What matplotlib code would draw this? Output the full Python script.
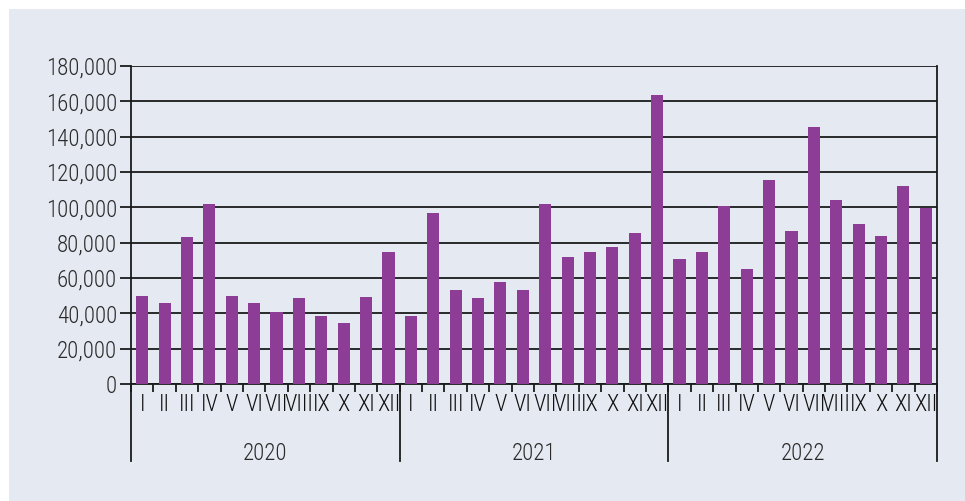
import matplotlib
matplotlib.use("Agg")
import matplotlib.pyplot as plt
import matplotlib.transforms as mtransforms
from matplotlib import font_manager
from matplotlib.patches import Rectangle
from matplotlib.ticker import FuncFormatter, MultipleLocator
import numpy as np

years = ["2020", "2021", "2022"]
months = ["I", "II", "III", "IV", "V", "VI", "VII", "VIII", "IX", "X", "XI", "XII"]
values_2020 = [50000, 46000, 83000, 102000, 50000, 46000, 41000, 48500, 38500, 34300, 49200, 74900]
values_2021 = [38500, 96600, 53400, 48500, 57600, 53400, 102000, 71700, 74900, 77400, 85700, 163600]
values_2022 = [70800, 74900, 100800, 64900, 115500, 86400, 145300, 104000, 90600, 83900, 112100, 99800]

names = sorted({f.name for f in font_manager.fontManager.ttflist})

# condensed face if there is one, otherwise a plain sans at a smaller size
fs = 13.5
family = 'Liberation Sans'
for cand in ['Liberation Sans Narrow', 'DejaVu Sans Condensed', 'Roboto Condensed']:
    if cand in names:
        family = cand
        fs = 16.5
        break

plt.rcParams['font.family'] = [family, 'DejaVu Sans']
plt.rcParams['font.size'] = fs
plt.rcParams['font.weight'] = 'light'

bg = '#E5EAF2'
bar_color = '#8E3D96'
text_color = '#2a2a2a'

fig = plt.figure(figsize=(9.65, 5.01), dpi=100, facecolor='white')
fig.patches.append(Rectangle((9/965, 0), 1, 1 - 9/501, transform=fig.transFigure,
                             facecolor=bg, edgecolor='none', zorder=-10))

ax = fig.add_axes([131/965, (501-384)/501, 806/965, 318/501])
ax.patch.set_alpha(0)

values = values_2020 + values_2021 + values_2022
n = len(values)
x = np.arange(n)
ax.bar(x, values, width=0.54, color=bar_color, zorder=3)

ax.set_xlim(-0.5, n - 0.5)
ax.set_ylim(0, 180000)
ax.yaxis.set_major_locator(MultipleLocator(20000))
ax.yaxis.set_major_formatter(FuncFormatter(lambda v, p: f"{int(v):,}"))
ax.grid(axis='y', color='#1a1a1a', linewidth=1.3, zorder=1)
ax.tick_params(axis='y', length=8, width=1.3, color='#1a1a1a', labelcolor=text_color, pad=2)

for s in ['top', 'right']:
    ax.spines[s].set_visible(False)
ax.spines['left'].set_linewidth(1.3)
ax.spines['bottom'].set_linewidth(1.3)
ax.spines['left'].set_color('#1a1a1a')
ax.spines['bottom'].set_color('#1a1a1a')

# month ticks at slot boundaries
ax.set_xticks(np.arange(-0.5, n, 1.0))
ax.set_xticklabels([])
ax.tick_params(axis='x', length=6, width=1.3, color='#1a1a1a')

trans = mtransforms.blended_transform_factory(ax.transData, ax.transAxes)
for b in np.arange(-0.5, n + 0.5, 12):
    ax.plot([b, b], [1 if b == n - 0.5 else 0, -0.242], transform=trans, color='#1a1a1a',
            linewidth=1.3, clip_on=False, zorder=4)

for i in range(n):
    ax.text(x[i], -0.066, months[i % 12], transform=trans, ha='center', va='center',
            color='#111111', fontsize=fs)

for j, yr in enumerate(years):
    ax.text(j * 12 + 5.5, -0.217, yr, transform=trans, ha='center', va='center',
            color=text_color, fontsize=fs)

fig.savefig("out.png", dpi=100, facecolor='white')
